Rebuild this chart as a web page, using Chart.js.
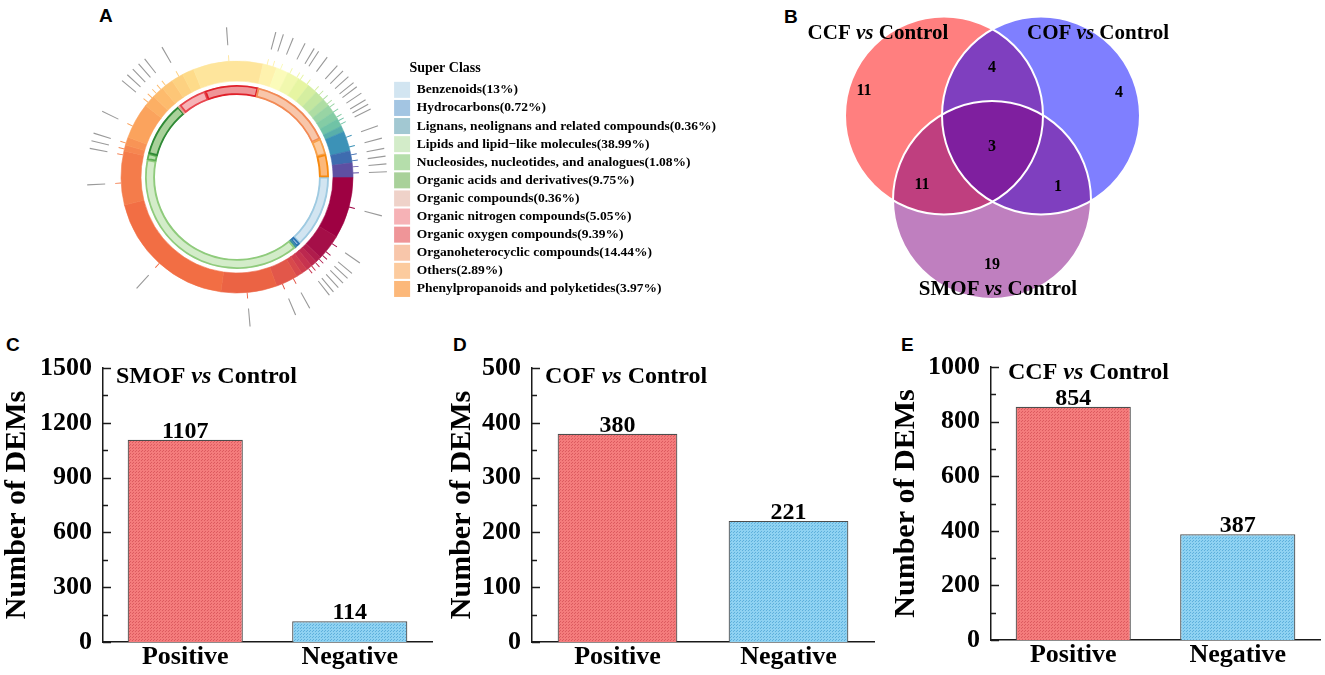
<!DOCTYPE html>
<html>
<head>
<meta charset="utf-8">
<script src="https://cdn.jsdelivr.net/npm/chart.js@4.4.1/dist/chart.umd.min.js"></script>
<style>
  html, body { margin: 0; padding: 0; background: #fff; }
  body { width: 1325px; height: 675px; position: relative; overflow: hidden; }
  .box { position: absolute; }
  .tag { position: absolute; font: bold 19px 'Liberation Sans', Arial, sans-serif; line-height: 1; color: #000; }
</style>
</head>
<body>
<div class="tag" style="left:99px;top:6px">A</div>
<div class="tag" style="left:784px;top:7px">B</div>
<div class="tag" style="left:6px;top:335px">C</div>
<div class="tag" style="left:453px;top:335px">D</div>
<div class="tag" style="left:901px;top:335px">E</div>

<div class="box" style="left:60px;top:0;width:700px;height:354px"><canvas id="circChart"></canvas></div>
<div class="box" style="left:790px;top:0;width:410px;height:310px"><canvas id="vennChart"></canvas></div>
<div class="box" style="left:0;top:335px;width:440px;height:340px"><canvas id="smofChart"></canvas></div>
<div class="box" style="left:445px;top:335px;width:435px;height:340px"><canvas id="cofChart"></canvas></div>
<div class="box" style="left:889px;top:335px;width:436px;height:340px"><canvas id="ccfChart"></canvas></div>

<script>
const SERIF = "'Liberation Serif', 'Times New Roman', Times, serif";

// ---- panel A : super class ring ----
const classNames = ['Benzenoids', 'Hydrocarbons', 'Lignans, neolignans and related compounds',
  'Lipids and lipid\u2212like molecules', 'Nucleosides, nucleotides, and analogues',
  'Organic acids and derivatives', 'Organic compounds', 'Organic nitrogen compounds',
  'Organic oxygen compounds', 'Organoheterocyclic compounds', 'Others',
  'Phenylpropanoids and polyketides'];
const classPct = [13, 0.72, 0.36, 38.99, 1.08, 9.75, 0.36, 5.05, 9.39, 14.44, 2.89, 3.97];

// outer spectral ring, span of each block in degrees (clockwise from 3 o'clock)
const ringSpan = [31, 13, 3, 3, 3, 3, 3, 11, 28, 68, 27, 3, 4, 18, 6, 6, 6, 6, 6, 35,
  7, 6, 6, 6, 5, 5, 4, 4, 4, 4, 3, 10, 6, 7];
// angles (degrees) of the marked metabolites around the ring
const markAngles = [15, 35, 40, 42.5, 45, 47.5, 50, 52, 61, 67, 85, 132, 177, 191, 194, 197,
  206, 220, 223, 226, 229, 232, 240, 266, 285, 288, 292, 297, 301, 303, 307, 312, 315,
  318, 321, 323, 326, 329, 331, 333, 340, 345, 349, 352, 355, 358];

// ---- panel B : venn ----
const vennSets = ['CCF', 'COF', 'SMOF'];
const vennRegions = ['CCF', 'COF', 'CCF&COF', 'CCF&COF&SMOF', 'CCF&SMOF', 'COF&SMOF', 'SMOF'];
const vennCounts = [11, 4, 4, 3, 11, 1, 19];

// ---- panels C-E : DEM counts ----
const barCats = ['Positive', 'Negative'];
const smofVals = [1107, 114];
const cofVals = [380, 221];
const ccfVals = [854, 387];

// styles
const classFill = ['#D2E5F1', '#A3C5E2', '#A2C8D2', '#D3ECC9', '#B5DEAB', '#A9D19A',
  '#EFD2C9', '#F6B2B6', '#EF9598', '#F8C6AA', '#FCCB9E', '#FCB87A'];
const classEdge = ['#9ECAE1', '#2B74B3', '#3C8FA3', '#8FCB7C', '#5DAE52', '#2F8A36',
  '#DFA393', '#E8454E', '#E0202A', '#F28A55', '#F7A04A', '#F6890F'];
const ringColor = ['#9E0142', '#A50F48', '#B01C4C', '#BC284F', '#C7334F', '#D03E4E', '#D8494C',
  '#E2574A', '#EB6344', '#F26E44', '#F47C4B', '#F68751', '#F89456', '#FBA35D', '#FCAF64',
  '#FDBB6D', '#FDC677', '#FDD181', '#FEDB8A', '#FEE59C', '#FEF2AE', '#FBFBBA', '#F1F8AE',
  '#E6F5A2', '#D5EEA0', '#C2E6A0', '#AEDDA3', '#98D4A4', '#84CCA5', '#70C3A6', '#58AFAA',
  '#3C92B7', '#3E6CAF', '#5E4FA2'];
const vennLayout = {
  circles: [[154, 115.5, 99], [251, 115.5, 99], [202, 200, 99]],
  fill: ['rgba(255,0,0,0.5)', 'rgba(0,0,255,0.5)', 'rgba(128,0,128,0.5)'],
  names: [[88, 34], [308, 34], [208, 290]],
  counts: [[74, 91], [329, 93], [202, 68], [202, 147], [132, 185], [268, 187], [202, 265]]
};

Chart.defaults.animation = false;
Chart.defaults.font.family = SERIF;
Chart.defaults.color = '#000';
Chart.defaults.plugins.tooltip.enabled = false;

const CLEAR = 'rgba(0,0,0,0)';

function tickRing(angles, w) {
  const out = [];
  let prev = 0;
  angles.forEach(a => {
    out.push(a - w / 2 - prev, w);
    prev = a + w / 2;
  });
  out.push(360 - prev);
  return out;
}

function ringColorAt(angle) {
  let acc = 0;
  for (let i = 0; i < ringSpan.length; i++) {
    acc += ringSpan[i];
    if (angle < acc) return ringColor[i];
  }
  return ringColor[ringColor.length - 1];
}

const grayTicks = tickRing(markAngles, 0.45);
const colorTicks = tickRing(markAngles, 0.45);

const circChart = new Chart(document.getElementById('circChart'), {
  type: 'doughnut',
  data: {
    labels: classNames,
    datasets: [
      { data: grayTicks, backgroundColor: grayTicks.map((_, i) => i % 2 ? '#9A9A9A' : CLEAR), borderWidth: 0, weight: 18 },
      { data: [1], backgroundColor: [CLEAR], borderWidth: 0, weight: 10 },
      { data: colorTicks, backgroundColor: colorTicks.map((_, i) => i % 2 ? ringColorAt(markAngles[(i - 1) / 2]) : CLEAR), borderWidth: 0, weight: 6 },
      { data: ringSpan, backgroundColor: ringColor, borderColor: ringColor, borderWidth: 0.6, weight: 20 },
      { data: [1], backgroundColor: [CLEAR], borderWidth: 0, weight: 4 },
      { data: classPct, backgroundColor: classFill, borderColor: classEdge, borderWidth: 1.5, borderAlign: 'inner', weight: 10 }
    ]
  },
  options: {
    responsive: true,
    maintainAspectRatio: false,
    radius: 150,
    cutout: '54.667%',
    rotation: 90,
    layout: { padding: { left: 22, right: 0, top: 0, bottom: 0 } },
    plugins: {
      legend: {
        position: 'right',
        align: 'center',
        maxWidth: 420,
        onClick: null,
        title: {
          display: true,
          text: '     Super Class',
          position: 'start',
          color: '#000',
          font: { size: 14, weight: 'bold' },
          padding: { top: 6, bottom: 2 }
        },
        labels: {
          boxWidth: 16,
          boxHeight: 16,
          padding: 2.1,
          color: '#000',
          font: { size: 13.5, weight: 'bold' },
          generateLabels: () => classNames.map((n, i) => ({
            text: n + '(' + classPct[i] + '%)',
            fillStyle: classFill[i],
            strokeStyle: classFill[i],
            lineWidth: 0,
            hidden: false,
            index: i,
            datasetIndex: 5
          }))
        }
      }
    }
  }
});
// keep the ring centred left of the legend
circChart.options.layout.padding.right = Math.max(0, 700 - 332 - circChart.legend.width);
circChart.update();

// ---- venn ----
function drawMixed(ctx, parts, x, y, size, align) {
  const fonts = parts.map(p => (p[1] ? 'italic ' : '') + 'bold ' + size + 'px ' + SERIF);
  let total = 0;
  const widths = parts.map((p, i) => {
    ctx.font = fonts[i];
    const w = ctx.measureText(p[0]).width;
    total += w;
    return w;
  });
  let cx = align === 'center' ? x - total / 2 : x;
  ctx.textAlign = 'left';
  ctx.textBaseline = 'middle';
  ctx.fillStyle = '#000';
  parts.forEach((p, i) => {
    ctx.font = fonts[i];
    ctx.fillText(p[0], cx, y);
    cx += widths[i];
  });
}

const vennText = {
  id: 'vennText',
  afterDatasetsDraw(chart) {
    const { ctx, scales: { x, y } } = chart;
    ctx.save();
    ctx.fillStyle = '#000';
    ctx.font = 'bold 16px ' + SERIF;
    ctx.textAlign = 'center';
    ctx.textBaseline = 'middle';
    vennCounts.forEach((c, i) => {
      const p = vennLayout.counts[i];
      ctx.fillText(String(c), x.getPixelForValue(p[0]), y.getPixelForValue(p[1]));
    });
    vennSets.forEach((s, i) => {
      const p = vennLayout.names[i];
      drawMixed(ctx, [[s + ' ', false], ['vs', true], [' Control', false]],
        x.getPixelForValue(p[0]), y.getPixelForValue(p[1]), 21, 'center');
    });
    ctx.restore();
  }
};

const circlePts = vennLayout.circles.map(c => ({ x: c[0], y: c[1], r: c[2] }));
new Chart(document.getElementById('vennChart'), {
  type: 'bubble',
  data: {
    datasets: [
      { data: circlePts, backgroundColor: CLEAR, borderColor: '#fff', borderWidth: 2, clip: false },
      { data: circlePts, backgroundColor: vennLayout.fill, borderWidth: 0, clip: false }
    ]
  },
  options: {
    responsive: true,
    maintainAspectRatio: false,
    layout: { padding: 0, autoPadding: false },
    plugins: { legend: { display: false } },
    scales: {
      x: { type: 'linear', min: 0, max: 410, display: false },
      y: { type: 'linear', min: 0, max: 310, reverse: true, display: false }
    }
  },
  plugins: [vennText]
});

// ---- bar panels ----
function dotFill(base, dot) {
  const c = document.createElement('canvas');
  c.width = 3; c.height = 3;
  const g = c.getContext('2d');
  g.fillStyle = base; g.fillRect(0, 0, 3, 3);
  g.fillStyle = dot; g.fillRect(1, 1, 1, 1); g.fillRect(0, 2, 1, 1);
  return g.createPattern(c, 'repeat');
}
const redDots = dotFill('#F47C7C', '#DC5A5F');
const blueDots = dotFill('#8FD2F2', '#5EB0DC');

const innerTicks = {
  id: 'innerTicks',
  afterDraw(chart, args, opts) {
    const { ctx, chartArea, scales: { y } } = chart;
    ctx.save();
    ctx.strokeStyle = '#1a1a1a';
    ctx.lineWidth = 1.5;
    const half = opts.step / 2;
    for (let k = 0; k * half <= y.max + 1e-9; k++) {
      const py = Math.round(y.getPixelForValue(k * half)) + 0.5;
      const len = k % 2 === 0 ? 8 : 5;
      ctx.beginPath();
      ctx.moveTo(chartArea.left, py);
      ctx.lineTo(chartArea.left + len, py);
      ctx.stroke();
    }
    ctx.restore();
  }
};

const valueLabels = {
  id: 'valueLabels',
  afterDatasetsDraw(chart) {
    const ctx = chart.ctx;
    const ds = chart.data.datasets[0];
    ctx.save();
    ctx.font = 'bold 24px ' + SERIF;
    ctx.fillStyle = '#000';
    ctx.textAlign = 'center';
    ctx.textBaseline = 'alphabetic';
    chart.getDatasetMeta(0).data.forEach((bar, i) => {
      ctx.fillText(String(ds.data[i]), bar.x, bar.y - 2);
    });
    ctx.restore();
  }
};

const innerTitle = {
  id: 'innerTitle',
  afterDraw(chart, args, opts) {
    const ctx = chart.ctx;
    ctx.save();
    drawMixed(ctx, [[opts.name + ' ', false], ['vs', true], [' Control', false]],
      chart.chartArea.left + opts.dx, chart.chartArea.top + opts.dy, 24, 'left');
    ctx.restore();
  }
};

function makeBar(id, vals, name, yMax, yStep, axisW, padTop, padRight, xH, dx, dy) {
  return new Chart(document.getElementById(id), {
    type: 'bar',
    data: {
      labels: barCats,
      datasets: [{
        data: vals,
        backgroundColor: [redDots, blueDots],
        borderColor: '#4d4d4d',
        borderWidth: 1.2,
        barPercentage: 0.7,
        categoryPercentage: 1
      }]
    },
    options: {
      responsive: true,
      maintainAspectRatio: false,
      layout: { padding: { top: padTop, right: padRight, left: 0, bottom: 0 } },
      plugins: {
        legend: { display: false },
        innerTitle: { name: name, dx: dx, dy: dy },
        innerTicks: { step: yStep }
      },
      scales: {
        x: {
          grid: { display: false, drawTicks: false },
          border: { color: '#1a1a1a', width: 1.5 },
          ticks: { padding: 0, color: '#000', font: { size: 26, weight: 'bold' } },
          afterFit: s => { s.height = xH; }
        },
        y: {
          min: 0,
          max: yMax,
          grid: { display: false, drawTicks: false },
          border: { color: '#1a1a1a', width: 1.5 },
          ticks: { stepSize: yStep, padding: 11, color: '#000', font: { size: 26, weight: 'bold' }, callback: v => String(v) },
          title: {
            display: true,
            text: 'Number of DEMs',
            color: '#000',
            font: { size: 30, weight: 'bold', lineHeight: 1 },
            padding: { top: 2, bottom: 0 }
          },
          afterFit: s => { s.width = axisW; }
        }
      }
    },
    plugins: [innerTitle, innerTicks, valueLabels]
  });
}

makeBar('smofChart', smofVals, 'SMOF', 1500, 300, 103, 33, 8, 33, 13, 9);
makeBar('cofChart', cofVals, 'COF', 500, 100, 87, 33, 6, 33, 13, 9);
makeBar('ccfChart', ccfVals, 'CCF', 1000, 200, 102, 32, 5, 35, 17, 6);
</script>
</body>
</html>
